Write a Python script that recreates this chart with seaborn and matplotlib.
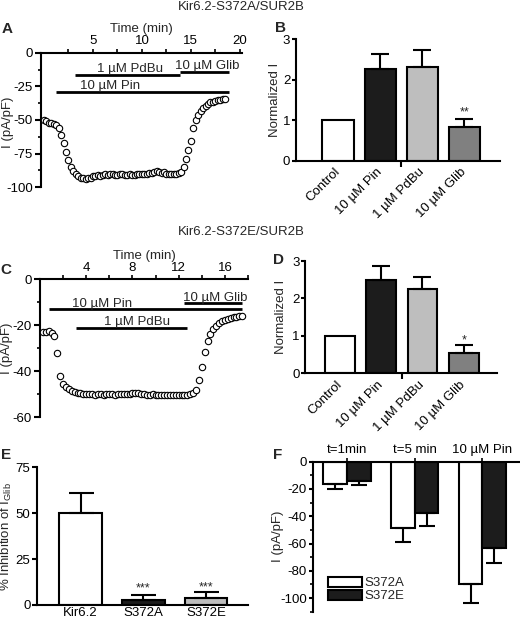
import numpy as np
import pandas as pd
import seaborn as sns
import matplotlib.pyplot as plt

# ---------------- data ----------------
title_a = "Kir6.2-S372A/SUR2B"
title_c = "Kir6.2-S372E/SUR2B"

# panel A: whole-cell current, one sample every 0.25 min from t = 0
a_t0, a_dt = 0.0, 0.25
a_current = [-50, -51, -52, -52.5, -53, -54, -56, -61, -67, -74,
             -80, -85, -88, -90.5, -92, -93, -93.5, -94, -93.5, -93,
             -92, -91.5, -91, -91.5, -91, -90.5, -91, -90.5, -90.5, -91,
             -91, -90.5, -90.5, -91, -91, -90.5, -91, -91, -90.5, -90.5,
             -90, -90.5, -90, -89.5, -89.5, -88.5, -88, -88.5, -89.5, -89,
             -90, -90, -90.5, -90.5, -90, -89.5, -88.5, -85, -79, -72,
             -66, -56, -50, -46, -43.5, -41, -39.5, -38, -37, -36.5,
             -36, -35.5, -35, -34.5, -34.5]
a_drugs = ["10 µM Pin", "1 µM PdBu", "10 µM Glib"]
a_drug_on = [1.2, 3.2, 13.9]
a_drug_off = [18.9, 13.9, 18.9]
a_drug_level = [-29, -16.3, -14.3]

# panel C: same protocol, S372E
c_t0, c_dt = 0.25, 0.25
c_current = [-23, -23, -22.5, -23.5, -24.5, -32, -42, -45.5, -47, -47.8,
             -48.5, -49, -49.3, -49.6, -49.8, -50, -49.8, -50, -50.2, -50,
             -50, -50.2, -50, -49.8, -50, -50.2, -50, -49.8, -50, -50,
             -49.8, -49.5, -49.3, -49.6, -49.8, -50, -50.2, -50.3, -50, -50.3,
             -50.5, -50.2, -50.5, -50.3, -50.5, -50.2, -50.3, -50.5, -50.3, -50.5,
             -50.3, -50, -49.6, -48, -44, -38, -31.5, -27, -24, -21.7,
             -20.3, -18.8, -18, -17.6, -17.3, -17, -16.6, -16.2, -16, -15.9]
c_drugs = ["10 µM Pin", "1 µM PdBu", "10 µM Glib"]
c_drug_on = [0.75, 3.1, 12.5]
c_drug_off = [17.5, 12.75, 17.5]
c_drug_level = [-13, -21, -10.4]

# panels B and D: normalized current
bd_labels = ["Control", "10 µM Pin", "1 µM PdBu", "10 µM Glib"]
bd_colors = ["white", "#1c1c1c", "#bebebe", "#808080"]
b_mean = [1.0, 2.26, 2.32, 0.84]
b_sem = [0, 0.37, 0.40, 0.18]
b_stars = ["", "", "", "**"]
d_mean = [1.0, 2.48, 2.25, 0.53]
d_sem = [0, 0.39, 0.33, 0.22]
d_stars = ["", "", "", "*"]

# panel E: % inhibition of I_Glib
e_labels = ["Kir6.2", "S372A", "S372E"]
e_colors = ["white", "#1c1c1c", "#bebebe"]
e_mean = [50.3, 2.7, 3.6]
e_sem = [10.9, 2.7, 3.3]
e_stars = ["", "***", "***"]

# panel F: current at different times
f_groups = ["t=1min", "t=5 min", "10 µM Pin"]
f_series = ["S372A", "S372E"]
f_colors = ["white", "#1c1c1c"]
f_s372a = [-16.3, -48.8, -89.6]
f_s372a_sem = [3.9, 10.2, 14.2]
f_s372e = [-13.9, -37.3, -63.5]
f_s372e_sem = [3.4, 9.8, 10.5]

# ---------------- style ----------------
sns.set_style("ticks")
plt.rcParams["font.family"] = ["Liberation Sans", "DejaVu Sans"]
plt.rcParams["axes.unicode_minus"] = False
plt.rcParams["font.size"] = 9.5
plt.rcParams["axes.linewidth"] = 1.5
plt.rcParams["axes.labelsize"] = 9.5
plt.rcParams["xtick.labelsize"] = 9.5
plt.rcParams["ytick.labelsize"] = 9.5
plt.rcParams["xtick.color"] = "black"
plt.rcParams["ytick.color"] = "black"
plt.rcParams["axes.edgecolor"] = "black"

FS = 9.5

fig = plt.figure(figsize=(5.2, 6.2), dpi=100)
axA = fig.add_axes([0.079, 0.698, 0.386, 0.217])
axB = fig.add_axes([0.569, 0.741, 0.393, 0.196])
axC = fig.add_axes([0.077, 0.327, 0.400, 0.2225])
axD = fig.add_axes([0.5865, 0.398, 0.3695, 0.181])
axE = fig.add_axes([0.0706, 0.0242, 0.4064, 0.2218])
axF = fig.add_axes([0.601, 0.0134, 0.397, 0.2419])


def trace_panel(ax, t0, dt, current, drugs, on, off, level, label_x):
    time = t0 + dt * np.arange(len(current))
    sns.scatterplot(x=time, y=current, ax=ax, marker="o", s=21,
                    facecolor="white", edgecolor="black", linewidth=0.8,
                    zorder=3, clip_on=False)
    for name, x0, x1, y, lx in zip(drugs, on, off, level, label_x):
        ax.hlines(y, x0, x1, color="black", lw=2)
        ax.annotate(name, (lx, y), xytext=(0, 1.8), textcoords="offset points",
                    ha="center", va="baseline", fontsize=FS)
    ax.xaxis.tick_top()
    ax.xaxis.set_label_position("top")
    ax.set_xlabel("Time (min)", labelpad=2)
    ax.set_ylabel("I (pA/pF)")
    ax.spines["bottom"].set_visible(False)
    ax.spines["right"].set_visible(False)
    ax.tick_params(axis="x", which="both", direction="out", length=3, width=1.2, pad=1)
    ax.tick_params(axis="y", which="major", direction="out", length=4, width=1.5, pad=2)
    ax.tick_params(axis="y", which="minor", direction="out", length=2.5, width=1.2)


# ---- A ----
trace_panel(axA, a_t0, a_dt, a_current, a_drugs, a_drug_on, a_drug_off,
            a_drug_level, [6.75, 8.75, 16.7])
axA.set_xlim(-0.3, 20.2)
axA.set_ylim(-100, 0)
axA.set_xticks([5, 10, 15, 20])
axA.set_xticks([2.5, 7.5, 12.5, 17.5], minor=True)
axA.set_yticks([0, -25, -50, -75, -100])
axA.set_yticks([-12.5, -37.5, -62.5, -87.5], minor=True)
axA.yaxis.set_label_coords(-0.135, 0.48)

# ---- C ----
trace_panel(axC, c_t0, c_dt, c_current, c_drugs, c_drug_on, c_drug_off,
            c_drug_level, [5.4, 8.35, 15.15])
axC.set_xlim(0, 18)
axC.set_ylim(-60, 0)
axC.set_xticks([4, 8, 12, 16])
axC.set_xticks([2, 6, 10, 14, 18], minor=True)
axC.set_yticks([0, -20, -40, -60])
axC.set_yticks([-10, -30, -50], minor=True)
axC.xaxis.labelpad = 2
axC.yaxis.set_label_coords(-0.128, 0.5)


def add_errors(ax, bars, errs, capsize, down=False):
    for bar, err in zip(bars, errs):
        if err <= 0:
            continue
        x = bar.get_x() + bar.get_width() / 2
        end = bar.get_y() + bar.get_height()
        yerr = [[err], [0]] if down else [[0], [err]]
        ax.errorbar(x, end, yerr=yerr, fmt="none", ecolor="black",
                    elinewidth=1.5, capsize=capsize, capthick=1.5, zorder=3)


def add_stars(ax, bars, stars, heights):
    for bar, s, h in zip(bars, stars, heights):
        if s:
            x = bar.get_x() + bar.get_width() / 2
            ax.annotate(s, (x, h), xytext=(0, -4.5), textcoords="offset points",
                        ha="center", va="baseline", fontsize=9)


def bar_panel(ax, labels, mean, sem, colors, width):
    df = pd.DataFrame({"cond": labels, "val": mean})
    sns.barplot(data=df, x="cond", y="val", hue="cond", palette=colors,
                legend=False, width=width, errorbar=None, saturation=1,
                edgecolor="black", linewidth=1.5, ax=ax)
    bars = [p for c in ax.containers for p in c]
    ax.set_xlabel("")
    sns.despine(ax=ax)
    return bars


# ---- B ----
bars = bar_panel(axB, bd_labels, b_mean, b_sem, bd_colors, 0.74)
add_errors(axB, bars, b_sem, 6.5)
add_stars(axB, bars, b_stars, [1.28] * 4)
axB.set_xlim(-1.0, 3.85)
axB.set_ylim(0, 3)
axB.set_yticks([0, 1, 2, 3])
axB.set_ylabel("Normalized I")
axB.yaxis.set_label_coords(-0.072, 0.5)

# ---- D ----
bars = bar_panel(axD, bd_labels, d_mean, d_sem, bd_colors, 0.72)
add_errors(axD, bars, d_sem, 6.5)
add_stars(axD, bars, d_stars, [0.97] * 4)
axD.set_xlim(-0.85, 3.81)
axD.set_ylim(0, 3)
axD.set_yticks([0, 1, 2, 3])
axD.set_ylabel("Normalized I")
axD.yaxis.set_label_coords(-0.095, 0.5)

for ax in (axB, axD):
    ax.set_xticks(range(len(bd_labels)))
    ax.set_xticklabels(bd_labels, rotation=45, ha="right", va="center",
                       rotation_mode="anchor")
    ax.set_xticks([1.5], minor=True)
    ax.tick_params(axis="x", which="major", length=0, pad=7)
    ax.tick_params(axis="x", which="minor", length=4, width=1.5, direction="out")
    ax.tick_params(axis="y", direction="out", length=3, width=1.5, pad=1)

# ---- E ----
bars = bar_panel(axE, e_labels, e_mean, e_sem, e_colors, 0.68)
add_errors(axE, bars, e_sem, 9)
add_stars(axE, bars, e_stars, [10.9, 10.9, 11.3])
axE.set_xlim(-0.7, 2.67)
axE.set_ylim(0, 75)
axE.set_yticks([0, 25, 50, 75])
axE.set_ylabel("% Inhibition of I$_{\\mathregular{Glib}}$")
axE.yaxis.set_label_coords(-0.108, 0.5)
axE.tick_params(axis="x", length=0, pad=1.5)
axE.tick_params(axis="y", direction="out", length=3.5, width=1.5, pad=1)

# ---- F ----
dfF = pd.DataFrame({"time": f_groups * 2,
                    "construct": [f_series[0]] * 3 + [f_series[1]] * 3,
                    "current": f_s372a + f_s372e})
sns.barplot(data=dfF, x="time", y="current", hue="construct", palette=f_colors,
            width=0.7, errorbar=None, saturation=1, edgecolor="black",
            linewidth=1.5, ax=axF)
add_errors(axF, axF.containers[0], f_s372a_sem, 5.5, down=True)
add_errors(axF, axF.containers[1], f_s372e_sem, 5.5, down=True)
axF.set_xlim(-0.51, 2.54)
axF.set_ylim(-110, 0)
axF.set_yticks([0, -20, -40, -60, -80, -100])
axF.set_yticks([-10, -30, -50, -70, -90, -110], minor=True)
axF.xaxis.tick_top()
axF.set_xlabel("")
axF.set_ylabel("I (pA/pF)")
axF.yaxis.set_label_coords(-0.137, 0.5)
axF.spines["bottom"].set_visible(False)
axF.spines["right"].set_visible(False)
axF.tick_params(axis="x", direction="out", length=3, width=1.2, pad=1)
axF.tick_params(axis="y", which="major", direction="out", length=3, width=1.5, pad=1)
axF.tick_params(axis="y", which="minor", direction="out", length=2, width=1.2)
sns.move_legend(axF, "lower left", bbox_to_anchor=(0.03, 0.0), frameon=False,
                title=None, handlelength=2.6, handleheight=0.75,
                handletextpad=0.2, labelspacing=0.05, borderaxespad=0.3,
                fontsize=FS)

# ---- titles and panel letters ----
fig.text(241 / 520, 1 - 7 / 620, title_a, ha="center", va="center", fontsize=FS)
fig.text(241 / 520, 1 - 232 / 620, title_c, ha="center", va="center", fontsize=FS)
for letter, x, y in [("A", 7, 29), ("B", 280, 28), ("C", 6, 270),
                     ("D", 278, 260), ("E", 6, 455), ("F", 278, 455)]:
    fig.text(x / 520, 1 - y / 620, letter, ha="center", va="center",
             fontsize=11, fontweight="bold")

fig.savefig("out.png", dpi=100)
